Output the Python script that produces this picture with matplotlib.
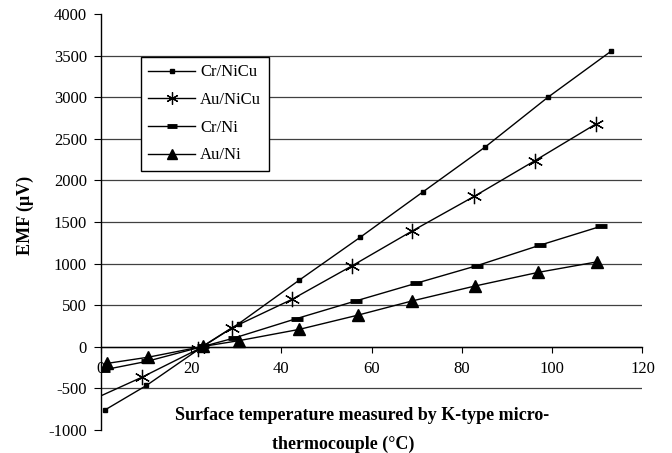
import matplotlib
matplotlib.use("Agg")
import matplotlib.pyplot as plt

# donnees
temp_cr_nicu = [0.9, 10.1, 22.5, 30.6, 44.0, 57.5, 71.3, 85.2, 99.0, 113.1]
emf_cr_nicu = [-760, -465, 0, 280, 803, 1318, 1860, 2404, 2998, 3556]

temp_au_nicu = [0.0, 9.1, 21.5, 29.0, 42.4, 55.7, 68.9, 82.7, 96.2, 109.8]
emf_au_nicu = [-590, -366, -30, 227, 572, 975, 1390, 1808, 2239, 2683]

temp_cr_ni = [0.6, 10.2, 22.7, 29.5, 43.4, 56.5, 69.8, 83.3, 97.3, 110.8]
emf_cr_ni = [-278, -175, 5, 105, 340, 552, 763, 975, 1222, 1449]

temp_au_ni = [1.3, 10.5, 22.7, 30.7, 44.0, 56.9, 69.0, 82.9, 96.9, 110.0]
emf_au_ni = [-200, -125, 5, 75, 210, 380, 552, 731, 895, 1022]

labels = ["Cr/NiCu", "Au/NiCu", "Cr/Ni", "Au/Ni"]
x_ticks = [0, 20, 40, 60, 80, 100, 120]
y_ticks = list(range(-1000, 4001, 500))

plt.rcParams["font.family"] = ["Liberation Serif", "DejaVu Serif"]
plt.rcParams["axes.unicode_minus"] = False

fig = plt.figure(figsize=(6.72, 4.53), dpi=100)
ax = fig.add_axes([0.150, 0.0508, 0.806, 0.918])

# lignes de grille horizontales (sauf -1000 et 4000)
for y in y_ticks[1:-1]:
    ax.axhline(y, color="0.25", lw=0.9, zorder=1)

ax.plot(temp_cr_nicu, emf_cr_nicu, color="black", lw=1, marker="s", ms=3.5,
        label=labels[0], zorder=3)
ax.plot(temp_au_nicu, emf_au_nicu, color="black", lw=1, marker=(6, 2, 0), ms=11,
        mew=0.9, markevery=slice(1, None), label=labels[1], zorder=3)
ax.plot(temp_cr_ni, emf_cr_ni, color="black", lw=1, marker="_", ms=9, mew=3.5,
        label=labels[2], zorder=3)
ax.plot(temp_au_ni, emf_au_ni, color="black", lw=1, marker="^", ms=9,
        label=labels[3], zorder=3)

ax.set_xlim(0, 120)
ax.set_ylim(-1000, 4000)
ax.set_xticks(x_ticks)
ax.set_yticks(y_ticks)
ax.tick_params(axis="both", labelsize=12, direction="out", color="black")
ax.tick_params(axis="y", length=5, pad=5)
ax.tick_params(axis="x", length=4.5, pad=6)

ax.spines["top"].set_visible(False)
ax.spines["right"].set_visible(False)
ax.spines["bottom"].set_position(("data", 0))
ax.spines["left"].set_linewidth(1)
ax.spines["bottom"].set_linewidth(1)
ax.patch.set_alpha(0)

leg = ax.legend(loc="upper left", bbox_to_anchor=(0.074, 0.897), borderaxespad=0,
                fancybox=False, framealpha=1, edgecolor="black", fontsize=12,
                handlelength=2.8, labelspacing=0.7, borderpad=0.45, handletextpad=0.3,
                markerscale=0.8)
leg.get_frame().set_linewidth(1)

# titres des axes
fig.text(362 / 672, 1 - 415 / 453, "Surface temperature measured by K-type micro-",
         ha="center", va="center", fontsize=13, fontweight="bold")
fig.text(343 / 672, 1 - 444 / 453, "thermocouple (\u00b0C)",
         ha="center", va="center", fontsize=13, fontweight="bold")
fig.text(25 / 672, 1 - 215 / 453, "EMF (\u03bcV)", ha="center", va="center",
         rotation=90, fontsize=13, fontweight="bold")

fig.savefig("out.png", dpi=100)
